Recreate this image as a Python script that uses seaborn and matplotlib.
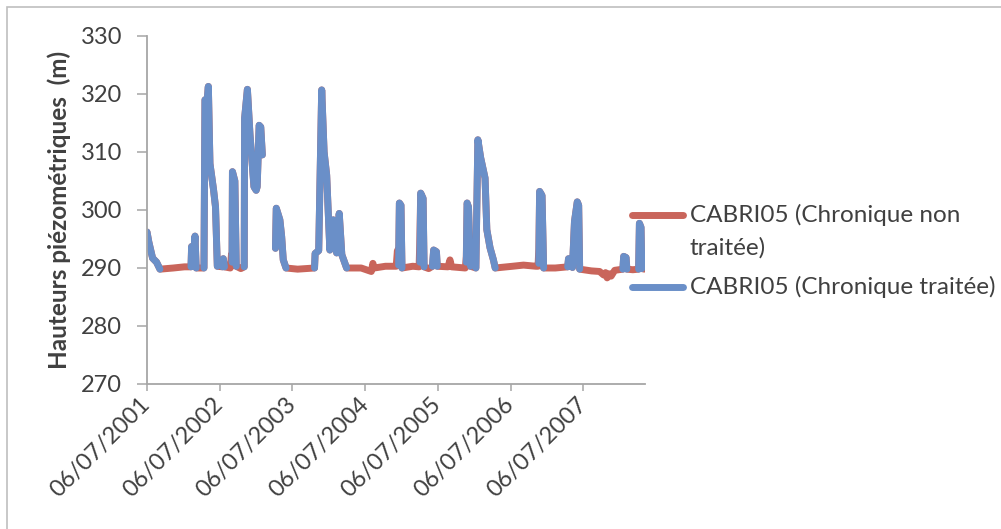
import numpy as np
import pandas as pd
import matplotlib.pyplot as plt
import seaborn as sns
from matplotlib.lines import Line2D
from matplotlib.patches import Rectangle

# Raw series (chronique non traitée)
raw_dates = [
    "2001-07-06", "2001-07-15", "2001-08-03", "2001-08-23", "2001-09-09", "2001-11-15",
    "2002-01-10", "2002-02-12", "2002-02-15", "2002-02-22", "2002-03-01", "2002-03-04",
    "2002-03-10", "2002-04-18", "2002-04-23", "2002-05-03", "2002-05-10", "2002-05-18",
    "2002-06-05", "2002-06-15", "2002-06-24", "2002-07-20", "2002-07-24", "2002-07-30",
    "2002-08-28", "2002-09-03", "2002-09-06", "2002-09-08", "2002-09-20", "2002-09-27",
    "2002-10-20", "2002-11-06", "2002-11-08", "2002-11-22", "2002-12-05", "2002-12-25",
    "2003-01-05", "2003-01-10", "2003-01-20", "2003-01-28", "2003-02-05",
    "2003-04-12", "2003-04-16", "2003-05-04", "2003-05-13", "2003-05-21", "2003-06-04",
    "2003-08-01", "2003-10-25", "2003-10-28", "2003-11-15", "2003-11-30", "2003-12-12",
    "2003-12-25", "2004-01-02", "2004-01-10", "2004-01-27", "2004-02-13", "2004-02-26",
    "2004-03-10", "2004-04-03", "2004-06-15", "2004-08-05", "2004-08-13", "2004-08-20",
    "2004-10-15", "2004-12-08", "2004-12-14", "2004-12-20", "2004-12-24", "2005-01-01",
    "2005-01-06", "2005-03-01", "2005-04-02", "2005-04-05", "2005-04-10", "2005-04-22",
    "2005-04-27", "2005-05-20", "2005-06-08", "2005-06-14", "2005-06-28", "2005-07-02",
    "2005-08-25", "2005-09-04", "2005-09-12", "2005-11-20", "2005-11-25", "2005-11-29",
    "2005-12-06", "2005-12-10", "2005-12-16", "2006-01-12", "2006-01-22", "2006-02-05",
    "2006-02-27", "2006-03-08", "2006-03-24", "2006-04-10", "2006-04-19", "2006-07-15",
    "2006-09-08", "2006-11-10", "2006-11-20", "2006-11-24", "2006-11-28", "2006-12-10",
    "2006-12-18", "2007-02-15", "2007-04-18", "2007-04-22", "2007-05-04", "2007-05-12",
    "2007-05-22", "2007-06-05", "2007-06-12", "2007-06-17", "2007-08-15", "2007-09-25",
    "2007-10-15", "2007-10-25", "2007-11-02", "2007-11-12", "2007-11-22", "2007-12-10",
    "2008-01-20", "2008-01-24", "2008-02-05", "2008-02-09", "2008-03-10", "2008-04-08",
    "2008-04-12", "2008-04-20", "2008-04-24", "2008-05-08",
]
raw_values = [
    296.2, 294.5, 291.7, 291.0, 289.8, 290.0,
    290.2, 290.2, 293.7, 290.5, 294.0, 295.5,
    290.0, 290.0, 319.0, 318.5, 321.3, 308.0,
    303.5, 300.5, 290.3, 290.2, 291.6, 290.2,
    290.0, 292.3, 291.5, 306.6, 305.0, 290.3,
    289.9, 290.2, 315.8, 320.8, 313.0, 304.0,
    303.4, 304.0, 314.6, 314.3, 309.5,
    293.4, 300.3, 298.3, 295.4, 291.4, 290.0,
    289.8, 290.0, 292.5, 293.0, 320.7, 310.0,
    306.0, 299.5, 293.1, 298.3, 292.6, 299.4,
    292.3, 290.0, 290.0, 289.4, 290.8, 290.0,
    290.3, 290.3, 293.0, 290.5, 301.2, 300.8,
    290.0, 290.3, 290.2, 294.0, 302.9, 302.0,
    290.2, 289.9, 290.3, 293.1, 292.8, 290.3,
    290.2, 291.4, 290.2, 290.0, 292.0, 301.2,
    300.5, 296.0, 290.3, 290.0, 312.1, 309.0,
    305.5, 296.6, 293.5, 291.4, 290.0, 290.3,
    290.5, 290.3, 290.3, 293.3, 303.2, 302.5,
    290.0, 290.0, 290.2, 291.6, 291.4, 290.1,
    298.0, 301.4, 300.8, 289.8, 289.5, 289.4,
    288.8, 289.2, 288.3, 289.0, 288.6, 289.6,
    289.8, 292.0, 291.8, 289.8, 289.7, 289.8,
    297.7, 297.0, 289.9, 289.8,
]
# the raw record has no data between these two dates
raw_gap = ("2003-02-05", "2003-04-12")

# Treated series (chronique traitée): only the episodes kept after treatment
treated_dates = [
    "2001-07-06", "2001-07-15", "2001-08-03", "2001-08-23", "2001-09-09",
    "2002-02-12", "2002-02-15", "2002-02-22", "2002-03-01", "2002-03-04", "2002-03-10",
    "2002-04-18", "2002-04-23", "2002-05-03", "2002-05-10", "2002-05-18", "2002-06-05",
    "2002-06-15", "2002-06-24",
    "2002-07-20", "2002-07-24", "2002-07-30",
    "2002-09-06", "2002-09-08", "2002-09-20", "2002-09-27",
    "2002-11-06", "2002-11-08", "2002-11-22", "2002-12-05", "2002-12-25", "2003-01-05",
    "2003-01-10", "2003-01-20", "2003-01-28", "2003-02-05",
    "2003-04-12", "2003-04-16", "2003-05-04", "2003-05-13", "2003-05-21", "2003-06-04",
    "2003-10-25", "2003-10-28", "2003-11-15", "2003-11-30", "2003-12-12", "2003-12-25",
    "2004-01-02", "2004-01-10", "2004-01-27", "2004-02-13", "2004-02-26", "2004-03-10",
    "2004-04-03",
    "2004-12-20", "2004-12-24", "2005-01-01", "2005-01-06",
    "2005-04-06", "2005-04-10", "2005-04-22", "2005-04-27",
    "2005-06-08", "2005-06-14", "2005-06-28", "2005-07-02",
    "2005-11-25", "2005-11-29", "2005-12-06", "2005-12-10", "2005-12-16",
    "2006-01-12", "2006-01-22", "2006-02-05", "2006-02-27", "2006-03-08", "2006-03-24",
    "2006-04-10", "2006-04-19",
    "2006-11-24", "2006-11-28", "2006-12-10", "2006-12-18",
    "2007-04-18", "2007-04-22", "2007-05-04", "2007-05-12", "2007-05-22", "2007-06-05",
    "2007-06-12", "2007-06-17",
    "2008-01-20", "2008-01-24", "2008-02-05", "2008-02-09",
    "2008-04-08", "2008-04-12", "2008-04-20", "2008-04-24",
]
treated_values = [
    296.2, 294.5, 291.7, 291.0, 289.8,
    290.2, 293.7, 290.5, 294.0, 295.5, 290.0,
    290.0, 319.0, 318.5, 321.3, 308.0, 303.5,
    300.5, 290.3,
    290.2, 291.6, 290.2,
    291.0, 306.6, 305.0, 290.3,
    290.2, 315.8, 320.8, 313.0, 304.0, 303.4,
    304.0, 314.6, 314.3, 309.5,
    293.4, 300.3, 298.3, 295.4, 291.4, 290.0,
    290.0, 292.5, 293.0, 320.7, 310.0, 306.0,
    299.5, 293.1, 298.3, 292.6, 299.4, 292.3,
    290.0,
    290.5, 301.2, 300.8, 290.0,
    291.0, 302.9, 302.0, 290.2,
    290.3, 293.1, 292.8, 290.3,
    291.0, 301.2, 300.5, 296.0, 290.3,
    290.0, 312.1, 309.0, 305.5, 296.6, 293.5,
    291.4, 290.0,
    290.8, 303.2, 302.5, 290.0,
    290.2, 291.6, 291.4, 290.1, 298.0, 301.4,
    300.8, 289.8,
    289.8, 292.0, 291.8, 289.8,
    289.8, 297.7, 297.0, 289.9,
]
# first date of each kept episode
treated_episode_starts = [
    "2001-07-06", "2002-02-12", "2002-04-18", "2002-07-20", "2002-09-06", "2002-11-06",
    "2003-04-12", "2003-10-25", "2004-12-20", "2005-04-06", "2005-06-08", "2005-11-25",
    "2006-01-12", "2006-11-24", "2007-04-18", "2008-01-20", "2008-04-08",
]

series_labels = ["CABRI05 (Chronique non\ntraitée)", "CABRI05 (Chronique traitée)"]
tick_dates = ["2001-07-06", "2002-07-06", "2003-07-06", "2004-07-06",
              "2005-07-06", "2006-07-06", "2007-07-06"]
tick_labels = ["06/07/2001", "06/07/2002", "06/07/2003", "06/07/2004",
               "06/07/2005", "06/07/2006", "06/07/2007"]
y_ticks = [270, 280, 290, 300, 310, 320, 330]

RED = "#C9655B"
BLUE = "#6A8FC8"
GREY = "#A6A6A6"
TEXT = "#404040"
FS = 17

sns.set_style("white")
plt.rcParams["font.family"] = ["Lato", "DejaVu Sans"]

raw = pd.DataFrame({"date": pd.to_datetime(raw_dates), "h": raw_values})
raw["piece"] = (raw["date"] >= pd.Timestamp(raw_gap[1])).astype(int)

treated = pd.DataFrame({"date": pd.to_datetime(treated_dates), "h": treated_values})
starts = pd.to_datetime(treated_episode_starts).values
treated["piece"] = np.searchsorted(starts, treated["date"].values, side="right")

W, H = 1001, 529
fig = plt.figure(figsize=(W / 100, H / 100), dpi=100)
ax = fig.add_axes([147 / W, 145 / H, 498 / W, 348 / H])

line_kw = dict(linewidth=5, solid_capstyle="round", solid_joinstyle="round")
sns.lineplot(data=raw, x="date", y="h", units="piece", estimator=None,
             color=RED, ax=ax, legend=False, **line_kw)
sns.lineplot(data=treated, x="date", y="h", units="piece", estimator=None,
             color=BLUE, ax=ax, legend=False, **line_kw)

ax.set_xlim(pd.Timestamp("2001-07-06"), pd.Timestamp("2008-05-10"))
ax.set_ylim(270, 330)
ax.set_yticks(y_ticks)
ax.set_xticks(pd.to_datetime(tick_dates))
ax.set_xticklabels(tick_labels, rotation=45, ha="right", va="center",
                   rotation_mode="anchor")
ax.tick_params(axis="y", direction="out", length=7, width=1.1, color=GREY,
               labelsize=FS, labelcolor=TEXT, pad=11, left=True)
ax.tick_params(axis="x", direction="out", length=5, width=1.1, color=GREY,
               labelsize=FS, labelcolor=TEXT, pad=7, bottom=True)
ax.set_xlabel("")
ax.set_ylabel("Hauteurs piézométriques  (m)", fontsize=FS + 0.5, fontweight="bold",
              color=TEXT, labelpad=7)

sns.despine(ax=ax)
for side in ["left", "bottom"]:
    ax.spines[side].set_color(GREY)
    ax.spines[side].set_linewidth(1.3)
ax.patch.set_alpha(0)

# legend drawn by hand, Excel style (marker line aligned with first text line)
for y_px, color in [(215, RED), (287, BLUE)]:
    fig.add_artist(Line2D([632 / W, 683 / W], [1 - y_px / H, 1 - y_px / H],
                          transform=fig.transFigure, color=color,
                          linewidth=5, solid_capstyle="round"))
first, second = series_labels[0].split("\n")
fig.text(690 / W, 1 - 215 / H, first, fontsize=FS + 0.5, color=TEXT, va="center")
fig.text(690 / W, 1 - 248 / H, second, fontsize=FS + 0.5, color=TEXT, va="center")
fig.text(690 / W, 1 - 287 / H, series_labels[1], fontsize=FS + 0.5, color=TEXT,
         va="center")

# chart area border (only top and left visible in the frame)
fig.add_artist(Rectangle((7 / W, -0.1), 1.2, 1.1 - 7 / H, transform=fig.transFigure,
                         fill=False, edgecolor="#BFBFBF", linewidth=1.2))

fig.savefig("out.png", dpi=100)
